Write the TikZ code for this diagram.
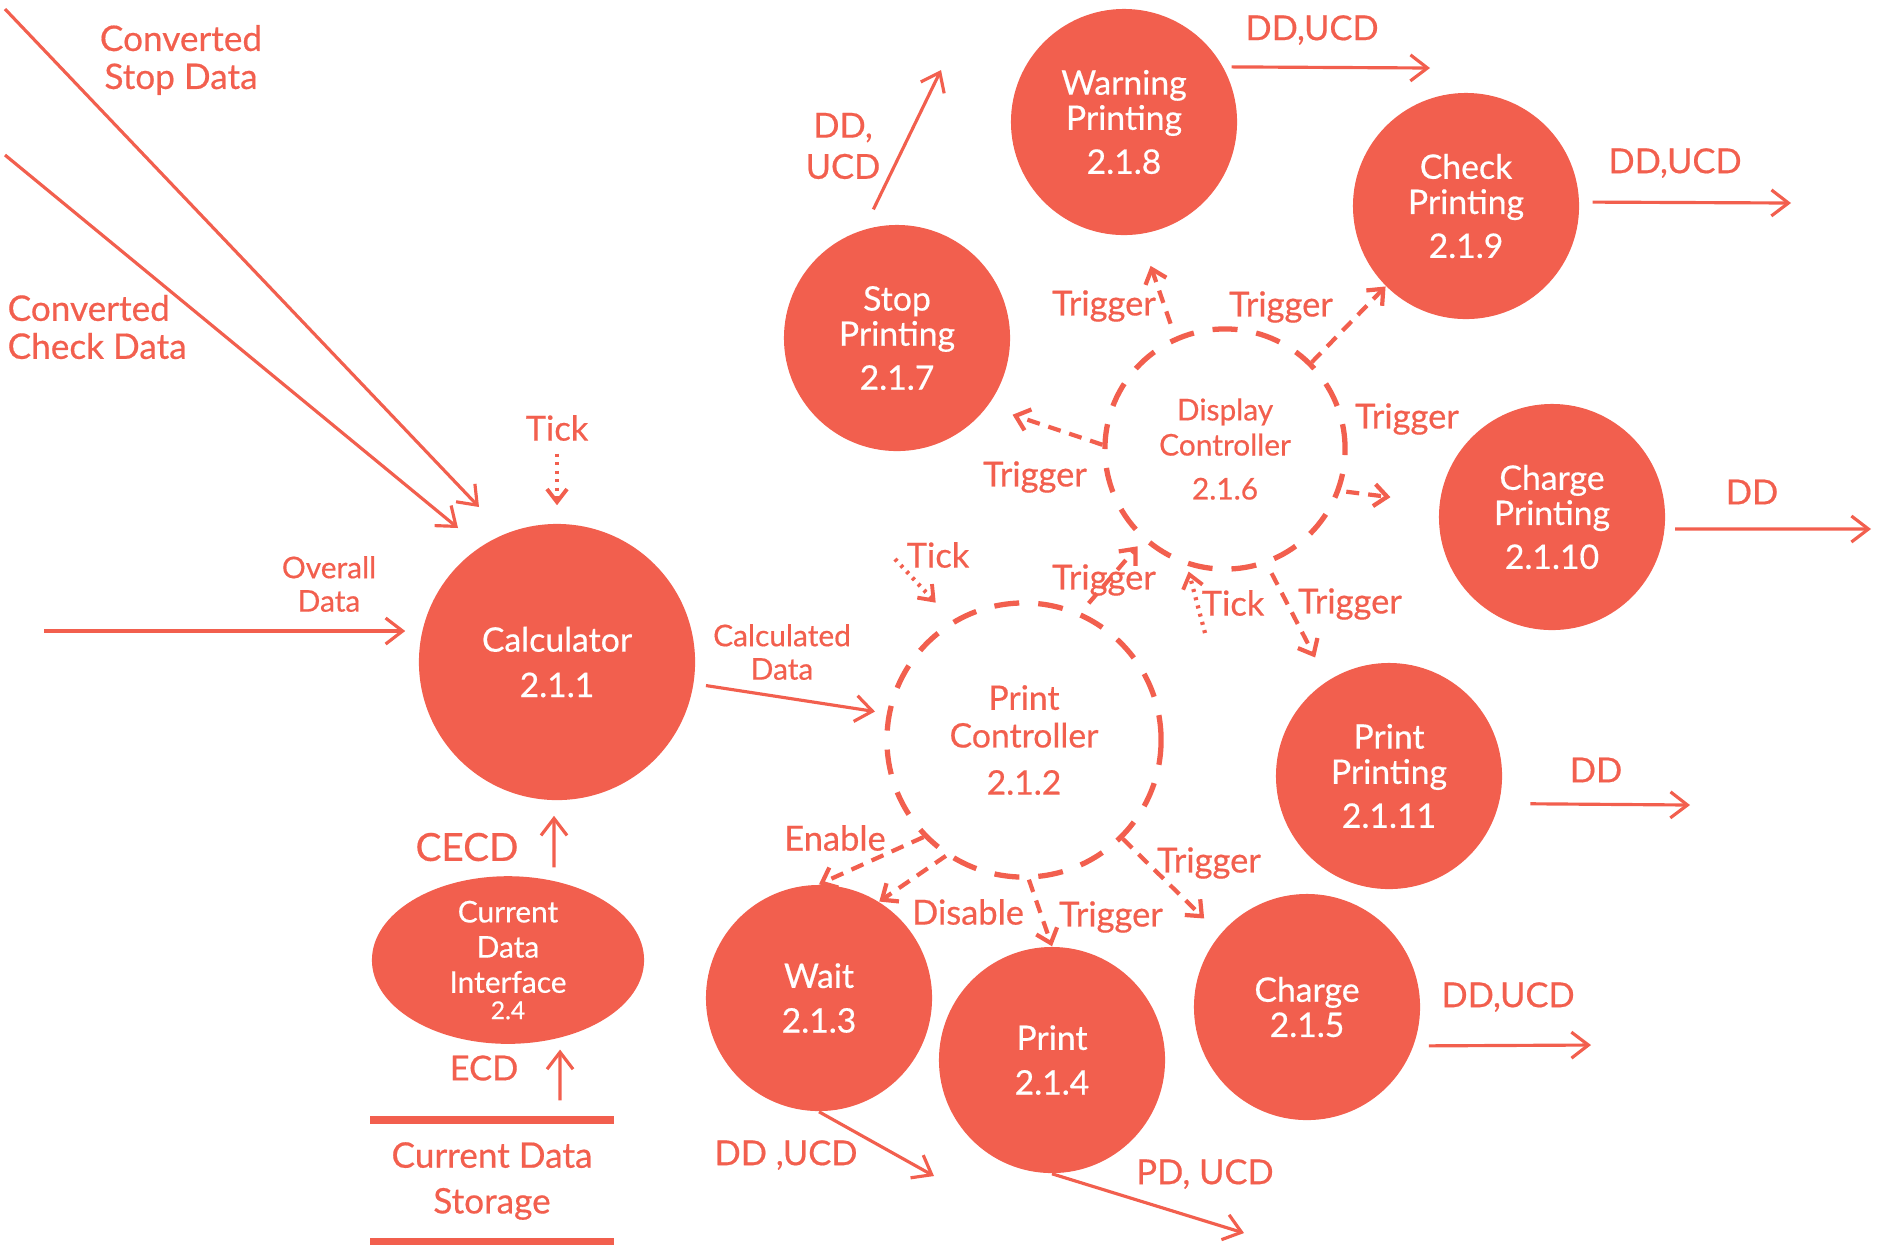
\documentclass[tikz,border=0pt]{standalone}
\usepackage{fontspec}
\setmainfont{Lato}[FakeBold=0.5]
\usetikzlibrary{arrows.meta,shapes.geometric}
\definecolor{coral}{RGB}{242,95,78}
\newcommand\fntProc{\fontsize{9.6}{10}\selectfont}
\newcommand\fntPC{\fontsize{9.6}{10.7}\selectfont}
\newcommand\fntSm{\fontsize{8.5}{10}\selectfont}
\newcommand\fntLbl{\fontsize{9.8}{11}\selectfont}
\newcommand\fntLblB{\fontsize{10}{10.8}\selectfont}
\newcommand\fntLblC{\fontsize{9.8}{11.7}\selectfont}
\newcommand\fntBigL{\fontsize{11}{13}\selectfont}
\newcommand\fntStore{\fontsize{10}{13}\selectfont}
\newcommand\fntSmB{\fontsize{8.5}{9.5}\selectfont}
\begin{document}
\begin{tikzpicture}[x=0.01cm,y=-0.01cm,
  proc/.style={circle, fill=coral, text=white, align=center, inner sep=0pt, minimum size=2.26cm, font=\fntProc},
  ctrl/.style={circle, draw=coral, line width=1.5pt, dash pattern=on 0.25cm off 0.19cm, text=coral, align=center, inner sep=0pt},
  lbl/.style={text=coral, align=center, inner sep=0pt, font=\fntLbl},
  flow/.style={draw=coral, line width=0.9pt, -{Straight Barb[length=0.17cm,width=0.26cm,line width=0.9pt]}},
  ctl/.style={draw=coral, line width=1.2pt, dash pattern=on 0.13cm off 0.09cm, -{Straight Barb[length=0.13cm,width=0.22cm,line width=1.2pt]}},
  tickl/.style={draw=coral, line width=1.2pt, dash pattern=on 0.03cm off 0.055cm, -{Straight Barb[length=0.13cm,width=0.2cm,line width=1.1pt]}},
  storeline/.style={draw=coral, line width=2.2pt}
]
\useasboundingbox (0,0) rectangle (1880,1244);

% processes
\node[proc, minimum size=2.76cm] (calc) at (557,662) {Calculator\\[2.9pt]2.1.1};
\node[proc] (wait) at (819,998) {Wait\\[2.7pt]2.1.3};
\node[proc] (print) at (1052,1060) {Print\\[2.7pt]2.1.4};
\node[proc] (charge) at (1307,1007) {Charge\\2.1.5};
\node[proc] (pp) at (1389,776) {Print\\Printing\\[2.5pt]2.1.11};
\node[proc] (cp) at (1552,517) {Charge\\Printing\\[2.5pt]2.1.10};
\node[proc] (check) at (1466,206) {Check\\Printing\\[2.5pt]2.1.9};
\node[proc] (warn) at (1124,122) {Warning\\Printing\\[2.5pt]2.1.8};
\node[proc] (stop) at (897,338) {Stop\\Printing\\[2.5pt]2.1.7};
\node[ctrl, minimum size=2.74cm, font=\fntPC] (pc) at (1024,740) {Print\\Controller\\[2.7pt]2.1.2};
\node[ctrl, minimum size=2.4cm, font=\fntSm] (dc) at (1225,449) {Display\\Controller\\[2.5pt]2.1.6};
\node[ellipse, fill=coral, text=white, minimum width=2.72cm, minimum height=1.46cm, inner sep=0pt, align=center, font=\fntSm] (cdi) at (508,960) {Current\\Data\\Interface\\[-2.5pt]{\fontsize{7}{8}\selectfont 2.4}};
\node[lbl, font=\fntStore, minimum width=2.42cm, minimum height=1.2cm] (store) at (492,1181) {Current Data\\Storage};
\draw[storeline] (store.north west) -- (store.north east) (store.south west) -- (store.south east);

% labels
\node[lbl, font=\fntLblB] (lcsd) at (181,60) {Converted\\Stop Data};
\node[lbl, font=\fntLblB, align=left, anchor=west] (lccd) at (7,327) {Converted\\Check Data};
\node[lbl] (tickc) at (557,428) {Tick};
\node[lbl, font=\fntSmB] (lod) at (329,584) {Overall\\Data};
\node[lbl, font=\fntSmB] (lcd) at (782,652) {Calculated\\Data};
\node[lbl, font=\fntBigL] (lcecd) at (467,847) {CECD};
\node[lbl] (lecd) at (484,1068) {ECD};
\node[lbl] (len) at (835,838) {Enable};
\node[lbl] (ldis) at (968,912) {Disable};
\node[lbl] (ltp) at (1111,917) {Trigger};
\node[lbl] (ltc) at (1209,863) {Trigger};
\node[lbl] (ltd) at (1104,580) {Trigger};
\node[lbl] (ltickp) at (938,555) {Tick};
\node[lbl] (ltickd) at (1233,603) {Tick};
\node[lbl] (ltpp) at (1350,604) {Trigger};
\node[lbl] (ltcp) at (1407,419) {Trigger};
\node[lbl] (ltck) at (1281,307) {Trigger};
\node[lbl] (ltw) at (1104,306) {Trigger};
\node[lbl] (lts) at (1035,477) {Trigger};
\node[lbl, font=\fntLblC] (lso) at (843,146) {DD,\\UCD};
\node[lbl] (lwo) at (1312,30) {DD,UCD};
\node[lbl] (lco) at (1675,163) {DD,UCD};
\node[lbl] (lcpo) at (1752,492) {DD};
\node[lbl] (lppo) at (1596,770) {DD};
\node[lbl] (lcho) at (1508,997) {DD,UCD};
\node[lbl] (lwto) at (786,1155) {DD ,UCD};
\node[lbl] (lpo) at (1205,1174) {PD, UCD};

% free ends
\coordinate (csd0) at (5,9);   \coordinate (csd1) at (479,507);
\coordinate (ccd0) at (5,155); \coordinate (ccd1) at (458,528);
\coordinate (od0) at (44,631);
\coordinate (so1) at (941,70);
\coordinate (wo1) at (1430,68);
\coordinate (co1) at (1791,203);
\coordinate (cpo1) at (1871,529);
\coordinate (ppo1) at (1690,805);
\coordinate (cho1) at (1591,1045);
\coordinate (wto1) at (934,1176);
\coordinate (po1) at (1244,1233);
\coordinate (tp0) at (895,559);
\coordinate (td0) at (1205,633);

% inputs to calculator
\draw[flow] (csd0) -- (csd1);
\draw[flow] (ccd0) -- (ccd1);
\draw[flow, shorten >=0.13cm] (od0) -- (od0 -| calc.west);
\draw[tickl, shorten <=0.12cm, shorten >=0.18cm] (tickc) -- (calc);
\draw[flow, shorten <=0.12cm, shorten >=0.12cm] (calc.-9) -- (pc.169);
\draw[flow, shorten <=0.08cm, shorten >=0.15cm] ([xshift=0.46cm]cdi.north) -- ([xshift=-0.03cm]calc.south);
\draw[flow, shorten <=0.2cm, shorten >=0.05cm] ([xshift=0.68cm]store.north) -- ([xshift=0.52cm]cdi.south);

% controller signals
\draw[ctl] (pc.224) -- (wait.north);
\draw[ctl] (pc.236) -- (wait.58);
\draw[ctl] (pc.-88) -- (print.north);
\draw[ctl, shorten >=0.22cm] (pc.-45) -- (charge.140);
\draw[ctl, shorten <=0.12cm, shorten >=0.08cm] (pc.66) -- (dc.228);
\draw[ctl, shorten <=0.1cm, shorten >=0.26cm] (dc.-70) -- (pp.123);
\draw[ctl, shorten <=0.06cm, shorten >=0.49cm] (dc.-20) -- (cp.173);
\draw[ctl] (dc.45) -- (check.225);
\draw[ctl, shorten <=0.14cm, shorten >=0.33cm] (dc.114) -- (warn.-82);
\draw[ctl, shorten >=0.26cm] (dc.178) -- (stop.-37);
\draw[tickl, shorten >=0.24cm] (tp0) -- (pc.121);
\draw[tickl, shorten >=0.06cm] (td0) -- (dc.-108);

% outputs
\draw[flow, shorten <=0.22cm] (stop.107) -- (so1);
\draw[flow, shorten <=0.08cm] (warn.29) -- (wo1);
\draw[flow, shorten <=0.13cm] (check.2) -- (co1);
\draw[flow, shorten <=0.1cm] (cp.-6) -- (cpo1);
\draw[flow, shorten <=0.31cm] (pp.-14) -- (ppo1);
\draw[flow, shorten <=0.15cm] (charge.-20) -- (cho1);
\draw[flow] (wait.south) -- (wto1);
\draw[flow] (print.south) -- (po1);
\end{tikzpicture}
\end{document}
